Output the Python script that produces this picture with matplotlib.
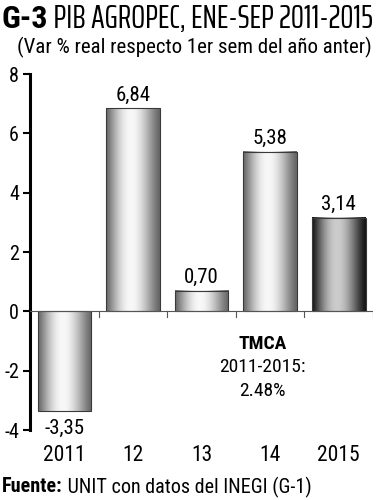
import numpy as np
import matplotlib
matplotlib.use("Agg")
import matplotlib.pyplot as plt
from matplotlib.colors import LinearSegmentedColormap

plt.rcParams['font.family'] = ['Roboto Condensed', 'DejaVu Sans']

# chart data
years = ["2011", "12", "13", "14", "2015"]
values = [-3.35, 6.84, 0.70, 5.38, 3.14]
value_labels = ["-3,35", "6,84", "0,70", "5,38", "3,14"]
y_ticks = [-4, -2, 0, 2, 4, 6, 8]

title_bold = "G-3"
title_rest = " PIB AGROPEC, ENE-SEP 2011-2015"
subtitle = "(Var % real respecto 1er sem del año anter)"
note_head = "TMCA"
note_lines = ["2011-2015:", "2.48%"]
source_head = "Fuente:"
source_rest = " UNIT con datos del INEGI (G-1)"

# cylinder-like shading across bar width
t = np.linspace(0, 1, 200)
shade = np.sin(np.pi * t ** 0.9) ** 1.3
grey_cmap = LinearSegmentedColormap.from_list("g", ["#666666", "#f8f8f8"])
dark_cmap = LinearSegmentedColormap.from_list("d", ["#141414", "#cccccc"])

fig = plt.figure(figsize=(3.77, 5.0), dpi=100)
ax = fig.add_axes([0.0796, 0.14, 0.91, 0.712])

x = np.arange(len(years))
bars = ax.bar(x, values, width=0.78, color="none", edgecolor="#3a3a3a", linewidth=0.8, zorder=3)

for i, b in enumerate(bars):
    x0, w = b.get_x(), b.get_width()
    y0, h = b.get_y(), b.get_height()
    cm = dark_cmap if i == len(bars) - 1 else grey_cmap
    ax.imshow(shade[np.newaxis, :], cmap=cm, aspect="auto", interpolation="bicubic",
              extent=(x0, x0 + w, min(y0, y0 + h), max(y0, y0 + h)), zorder=2)

for xi, v, lab in zip(x, values, value_labels):
    if v >= 0:
        ax.text(xi, v + 0.45, lab, ha="center", va="center", fontsize=15)
    else:
        ax.text(xi, v - 0.6, lab, ha="center", va="center", fontsize=15)

ax.set_xlim(-0.5, len(years) - 0.5)
ax.set_ylim(-4, 8)
ax.set_yticks(y_ticks)
ax.set_yticklabels([str(v) for v in y_ticks], fontsize=14.5)
ax.tick_params(axis="y", direction="out", length=5, width=1.5, pad=3)

# x-axis at zero with ticks between categories
ax.spines["top"].set_visible(False)
ax.spines["right"].set_visible(False)
ax.spines["bottom"].set_visible(False)
ax.spines["left"].set_linewidth(2.2)
ax.axhline(0, color="#555555", linewidth=0.8, zorder=4)
for xb in np.arange(0.5, len(years), 1.0):
    ax.plot([xb, xb], [0, -0.2], color="#555555", linewidth=0.8, zorder=4)
ax.set_xticks([])
for xi, yr in zip(x, years):
    ax.text(xi, -4.85, yr, ha="center", va="center", fontsize=15.5, clip_on=False)

ax.text(2.89, -1.11, note_head, ha="center", va="center", fontsize=14, fontweight="bold")
ax.text(2.89, -1.88, note_lines[0], ha="center", va="center", fontsize=14)
ax.text(2.89, -2.69, note_lines[1], ha="center", va="center", fontsize=14)

# titles
t1 = fig.text(0.005, 0.962, title_bold, fontsize=23, fontweight="heavy", va="center", ha="left")
fig.canvas.draw()
bb = t1.get_window_extent()
t2 = fig.text(bb.x1 / fig.bbox.width, 0.962, title_rest, fontsize=24, va="center", ha="left",
              family=["Saira ExtraCondensed", "Roboto Condensed"])
fig.canvas.draw()
w2 = t2.get_window_extent()
avail = 373 - bb.x1
if w2.width > avail:
    t2.set_fontsize(24 * avail / w2.width)
fig.text(0.987, 0.906, subtitle, fontsize=15, va="center", ha="right")

s1 = fig.text(0.005, 0.026, source_head, fontsize=14.5, fontweight="bold", va="center", ha="left")
fig.canvas.draw()
bb = s1.get_window_extent()
fig.text(bb.x1 / fig.bbox.width, 0.026, source_rest, fontsize=14.5, va="center", ha="left")

fig.savefig("out.png", dpi=100)
